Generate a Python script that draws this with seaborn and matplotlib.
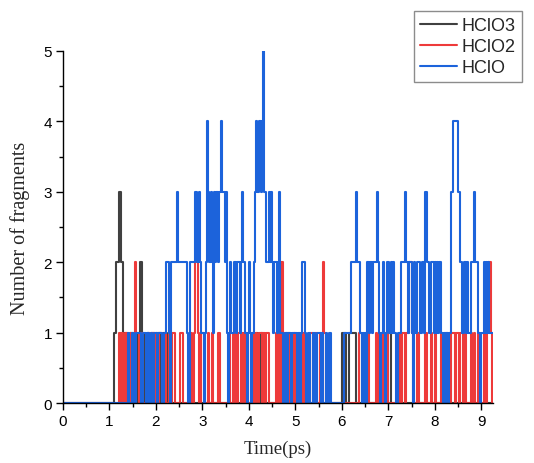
import numpy as np
import pandas as pd
import matplotlib
matplotlib.use("Agg")
import matplotlib.pyplot as plt
from matplotlib.lines import Line2D
from matplotlib.ticker import MultipleLocator
import seaborn as sns

# ---------------- data ----------------
series_names = ["HClO3", "HClO2", "HClO"]
series_colors = ["#404040", "#ee3a3a", "#1c63db"]

# HClO3 sampled every 0.05 ps (0 .. 9.25 ps)
hclo3_step = 0.05
hclo3 = [
    0, 0, 0, 0, 0, 0, 0, 0, 0, 0, 0, 0, 0, 0, 0, 0, 0, 0, 0, 0,   # 0.0-0.95
    0, 0, 1, 2, 3, 2, 1, 1, 0, 1, 0, 1, 0, 2, 1, 0, 1, 0, 1, 0,   # 1.0-1.95
    1, 1, 0, 1, 0, 1, 0, 0, 0, 0, 0, 0, 0, 0, 0, 0, 0, 0, 0, 0,   # 2.0-2.95
    0, 0, 0, 0, 0, 0, 0, 0, 0, 0, 0, 0, 0, 0, 0, 0, 0, 0, 0, 0,   # 3.0-3.95
    0, 0, 0, 1, 0, 1, 0, 0, 0, 0, 0, 0, 0, 0, 0, 0, 1, 0, 0, 0,   # 4.0-4.95
    0, 0, 0, 0, 0, 0, 0, 0, 0, 0, 0, 0, 0, 0, 0, 0, 0, 0, 0, 0,   # 5.0-5.95
    1, 1, 0, 1, 1, 1, 0, 0, 0, 0, 0, 0, 0, 0, 0, 0, 0, 0, 0, 0,   # 6.0-6.95
    1, 0, 0, 0, 0, 0, 0, 0, 0, 0, 0, 0, 0, 0, 0, 0, 0, 0, 0, 0,   # 7.0-7.95
    0, 0, 0, 0, 0, 0, 0, 0, 0, 0, 0, 0, 0, 0, 0, 0, 0, 0, 0, 0,   # 8.0-8.95
    0, 0, 0, 0, 0, 0,                                             # 9.0-9.25
]

# HClO2 sampled every 0.025 ps (0 .. 9.25 ps)
hclo2_step = 0.025
hclo2 = [
    0, 0, 0, 0, 0, 0, 0, 0, 0, 0, 0, 0, 0, 0, 0, 0, 0, 0, 0, 0,
    0, 0, 0, 0, 0, 0, 0, 0, 0, 0, 0, 0, 0, 0, 0, 0, 0, 0, 0, 0,   # 0.0
    0, 0, 0, 0, 0, 0, 0, 0, 1, 0, 1, 1, 0, 1, 1, 0, 0, 0, 1, 0,
    0, 1, 2, 1, 1, 0, 0, 1, 1, 0, 0, 0, 0, 1, 1, 0, 0, 1, 1, 0,   # 1.0
    0, 0, 0, 1, 1, 0, 0, 0, 1, 0, 0, 1, 1, 0, 1, 1, 0, 0, 0, 0,
    0, 1, 1, 0, 0, 0, 0, 0, 0, 0, 1, 0, 0, 1, 2, 2, 1, 0, 0, 1,   # 2.0
    1, 0, 0, 0, 0, 1, 0, 0, 1, 0, 0, 0, 0, 1, 1, 0, 0, 0, 0, 0,
    0, 0, 0, 1, 0, 0, 1, 0, 1, 1, 0, 1, 1, 0, 1, 1, 0, 1, 1, 0,   # 3.0
    0, 0, 0, 1, 0, 0, 1, 0, 0, 1, 1, 0, 1, 1, 0, 1, 1, 0, 0, 0,
    0, 0, 0, 1, 0, 0, 1, 0, 2, 1, 1, 0, 0, 0, 1, 0, 0, 0, 0, 1,   # 4.0
    0, 0, 0, 0, 0, 0, 1, 0, 0, 0, 0, 0, 0, 1, 1, 0, 0, 1, 1, 0,
    0, 1, 1, 0, 2, 1, 0, 0, 0, 0, 0, 0, 0, 0, 0, 0, 0, 0, 0, 0,   # 5.0
    0, 0, 0, 0, 0, 0, 0, 0, 0, 0, 0, 0, 0, 0, 0, 1, 1, 0, 0, 0,
    0, 1, 1, 0, 0, 0, 0, 0, 0, 1, 0, 0, 1, 0, 1, 0, 1, 1, 0, 1,   # 6.0
    0, 0, 0, 0, 0, 0, 0, 0, 0, 1, 1, 0, 1, 1, 0, 1, 1, 1, 2, 2,
    1, 0, 0, 0, 0, 1, 0, 0, 0, 0, 0, 0, 1, 0, 0, 0, 0, 1, 0, 0,   # 7.0
    1, 0, 0, 0, 0, 1, 0, 0, 0, 1, 1, 0, 1, 0, 1, 1, 1, 0, 1, 1,
    1, 0, 1, 1, 0, 1, 1, 0, 0, 0, 0, 1, 0, 0, 1, 0, 0, 1, 1, 0,   # 8.0
    0, 0, 1, 0, 0, 1, 2, 2, 1, 0, 0,                              # 9.0-9.25
]

# HClO sampled every 0.025 ps (0 .. 9.25 ps)
hclo_step = 0.025
hclo = [
    0, 0, 0, 0, 0, 0, 0, 0, 0, 0, 0, 0, 0, 0, 0, 0, 0, 0, 0, 0,
    0, 0, 0, 0, 0, 0, 0, 0, 0, 0, 0, 0, 0, 0, 0, 0, 0, 0, 0, 0,   # 0.0
    0, 0, 0, 0, 0, 0, 0, 0, 0, 0, 0, 0, 0, 0, 0, 0, 1, 0, 0, 1,
    1, 0, 0, 1, 1, 1, 1, 0, 0, 1, 1, 0, 1, 1, 0, 0, 1, 0, 1, 1,   # 1.0
    1, 0, 1, 1, 1, 0, 0, 1, 1, 2, 2, 1, 0, 2, 2, 2, 2, 2, 3, 2,
    2, 2, 2, 2, 2, 2, 2, 1, 0, 2, 2, 2, 2, 2, 3, 2, 2, 3, 2, 1,   # 2.0
    1, 0, 1, 2, 4, 3, 2, 3, 2, 1, 3, 2, 3, 2, 3, 3, 4, 3, 3, 2,
    3, 1, 0, 1, 2, 1, 1, 2, 2, 1, 2, 2, 1, 2, 3, 2, 2, 1, 0, 1,   # 3.0
    2, 1, 0, 1, 2, 3, 4, 3, 3, 4, 3, 4, 5, 3, 3, 2, 2, 3, 2, 3,
    2, 1, 2, 2, 1, 2, 3, 1, 1, 0, 0, 1, 1, 0, 1, 1, 0, 1, 1, 1,   # 4.0
    1, 0, 1, 1, 0, 1, 2, 2, 1, 0, 0, 1, 1, 0, 0, 1, 1, 0, 0, 1,
    1, 1, 0, 1, 0, 0, 1, 0, 0, 1, 1, 0, 0, 0, 0, 0, 0, 0, 0, 0,   # 5.0
    0, 0, 1, 1, 1, 1, 1, 1, 2, 2, 2, 2, 3, 2, 2, 2, 1, 0, 1, 0,
    1, 0, 2, 1, 2, 2, 1, 2, 2, 2, 3, 2, 1, 0, 1, 2, 1, 0, 1, 2,   # 6.0
    2, 1, 2, 1, 2, 1, 1, 0, 1, 1, 1, 2, 2, 2, 3, 2, 2, 1, 2, 2,
    1, 0, 2, 1, 1, 2, 2, 1, 1, 2, 2, 1, 3, 2, 2, 1, 1, 2, 2, 1,   # 7.0
    2, 1, 2, 1, 2, 1, 1, 0, 1, 0, 1, 0, 1, 1, 3, 3, 4, 4, 4, 4,
    3, 3, 2, 1, 1, 2, 2, 1, 2, 1, 1, 2, 2, 2, 3, 2, 2, 1, 1, 0,   # 8.0
    1, 1, 2, 1, 2, 1, 2, 1, 1, 1, 1,                              # 9.0-9.25
]

x_ticks = [0, 1, 2, 3, 4, 5, 6, 7, 8, 9]
y_ticks = [0, 1, 2, 3, 4, 5]

# ---------------- build long table ----------------
frames = []
for name, vals, step in zip(series_names, [hclo3, hclo2, hclo],
                            [hclo3_step, hclo2_step, hclo_step]):
    t = np.round(np.arange(len(vals)) * step, 4)
    frames.append(pd.DataFrame({"Time": t, "Count": vals, "Species": name}))
df = pd.concat(frames, ignore_index=True)

# ---------------- plot ----------------
sns.set_style("ticks")
plt.rcParams["font.family"] = ["Liberation Sans", "DejaVu Sans"]

fig = plt.figure(figsize=(5.34, 4.64), dpi=100)
ax = fig.add_axes([0.118, 0.129, 0.805, 0.759])

palette = dict(zip(series_names, series_colors))
sns.lineplot(data=df, x="Time", y="Count", hue="Species", hue_order=series_names,
             palette=palette, drawstyle="steps-post", estimator=None,
             linewidth=1.5, legend=False, ax=ax)

ax.set_xlim(0, 9.25)
ax.set_ylim(0, 5)
ax.set_xticks(x_ticks)
ax.set_yticks(y_ticks)
ax.xaxis.set_minor_locator(MultipleLocator(0.5))
ax.yaxis.set_minor_locator(MultipleLocator(0.5))
ax.tick_params(axis="both", which="major", direction="out", length=5, width=1,
               labelsize=11, colors="black", pad=3)
ax.tick_params(axis="both", which="minor", direction="out", length=3, width=1,
               colors="black")
for s in ["top", "right"]:
    ax.spines[s].set_visible(False)
for s in ["left", "bottom"]:
    ax.spines[s].set_linewidth(1)
    ax.spines[s].set_color("black")

ax.set_xlabel("Time(ps)", family=["Liberation Serif", "DejaVu Serif"], fontsize=13.5, labelpad=8)
ax.set_ylabel("Number of fragments", family=["Liberation Serif", "DejaVu Serif"], fontsize=14.5, labelpad=10)

handles = [Line2D([0], [0], color=c, lw=1.5) for c in series_colors]
leg = fig.legend(handles, series_names, loc="upper right",
                 bbox_to_anchor=(0.978, 0.975), bbox_transform=fig.transFigure,
                 fontsize=13, frameon=True, fancybox=False, framealpha=1,
                 edgecolor="#8c8c8c", handlelength=2.0, handletextpad=0.3,
                 borderpad=0.35, labelspacing=0.22, borderaxespad=0)
leg.get_frame().set_linewidth(1)

fig.savefig("out.png", dpi=100)
